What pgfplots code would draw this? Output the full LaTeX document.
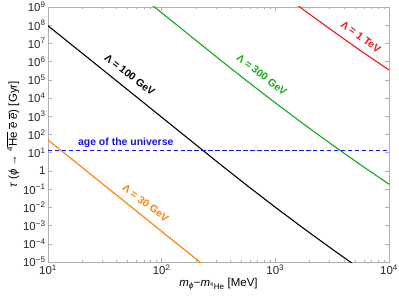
\documentclass[border=0pt]{standalone}
\usepackage{fontspec}
\setmainfont{Liberation Sans}
\usepackage{pgfplots}
\pgfplotsset{compat=1.18}
\definecolor{cOrange}{RGB}{255,128,0}
\definecolor{cGreen}{RGB}{20,170,20}
\definecolor{cRed}{RGB}{240,20,20}
\definecolor{cBlue}{RGB}{20,20,230}
\definecolor{cFrame}{RGB}{175,175,175}
\begin{document}
\begin{tikzpicture}
\begin{axis}[
  name=ax,
  scale only axis, width=341bp, height=255bp,
  xmode=log, ymode=log,
  xmin=10, xmax=10000, ymin=1e-5, ymax=1e9,
  axis line style={cFrame, line width=0.8pt},
  tick style={cFrame, line width=0.5pt},
  tick align=inside,
  major tick length=4pt, minor tick length=2.5pt,
  xtick={10,100,1000,10000},
  xticklabels={10\textsuperscript{1},10\textsuperscript{2},10\textsuperscript{3},10\textsuperscript{4}},
  ytick={1e-5,1e-4,1e-3,1e-2,1e-1,1,10,100,1e3,1e4,1e5,1e6,1e7,1e8,1e9},
  yticklabels={10\textsuperscript{−5},10\textsuperscript{−4},10\textsuperscript{−3},10\textsuperscript{−2},10\textsuperscript{−1},1,10\textsuperscript{1},10\textsuperscript{2},10\textsuperscript{3},10\textsuperscript{4},10\textsuperscript{5},10\textsuperscript{6},10\textsuperscript{7},10\textsuperscript{8},10\textsuperscript{9}},
  yminorticks=false,
  tick label style={font=\fontsize{11.5}{12}\selectfont, text=black!85},
  xticklabel style={yshift=1pt},
  yticklabel style={xshift=1pt},
  xlabel={\textit{m}\textsubscript{\textit{ϕ}}−\textit{m}\textsubscript{\textsuperscript{4}He} [MeV]},
  ylabel={\textit{τ} (\textit{ϕ} → \textsuperscript{4}$\overline{\mbox{He}}$ $\overline{\mbox{\textit{e}}}$ $\overline{\mbox{\textit{e}}}$) [Gyr]},
  label style={font=\fontsize{11.5}{12}\selectfont},
  xlabel style={yshift=3pt},
  ylabel style={yshift=-3pt},
  clip=true,
]
% Lambda = 30 GeV
\addplot[cOrange, line width=1.1pt] coordinates {
 (10,50) (31.62,0.155) (100,4.8e-4) (316.2,1.5e-6)};
% Lambda = 100 GeV
\addplot[black, line width=1.1pt] coordinates {
 (10,9.3e7) (31.62,2.9e5) (100,891) (316.2,2.75) (562.3,0.161) (1000,1.01e-2) (1778,6.9e-4) (3162,5.07e-5) (5623,4.0e-6)};
% Lambda = 300 GeV
\addplot[cGreen, line width=1.1pt] coordinates {
 (31.62,1.55e11) (56.23,8.6e9) (100,4.8e8) (316.2,1.48e6) (562.3,8.65e4) (1000,5450) (1778,371) (3162,27.2) (5623,2.16) (10000,0.186)};
% Lambda = 1 TeV
\addplot[cRed, line width=1.1pt] coordinates {
 (1000,1.01e10) (1778,6.9e8) (3162,5.07e7) (5623,4.0e6) (10000,3.47e5)};
% age of the universe
\addplot[cBlue, line width=1.1pt, dash pattern=on 4.5pt off 2.5pt] coordinates {(10,13.8) (10000,13.8)};

\node[font=\bfseries\fontsize{10.5}{12}\selectfont, text=cBlue] at (axis cs:48.3,34) {age of the universe};
\node[font=\bfseries\fontsize{10.5}{12}\selectfont, rotate=-38] at (axis cs:52.4,1.88e5) {Λ = 100 GeV};
\node[font=\bfseries\fontsize{10.5}{12}\selectfont, rotate=-38, text=cGreen] at (axis cs:762,1.88e5) {Λ = 300 GeV};
\node[font=\bfseries\fontsize{10.5}{12}\selectfont, rotate=-36, text=cRed] at (axis cs:5660,2.3e7) {Λ = 1 TeV};
\node[font=\bfseries\fontsize{10.5}{12}\selectfont, rotate=-37, text=cOrange] at (axis cs:72.4,1.7e-2) {Λ = 30 GeV};
\end{axis}
\pgfresetboundingbox
\path ([xshift=-48bp,yshift=-42bp]ax.south west) rectangle ([xshift=10bp,yshift=7bp]ax.north east);
\end{tikzpicture}
\end{document}
